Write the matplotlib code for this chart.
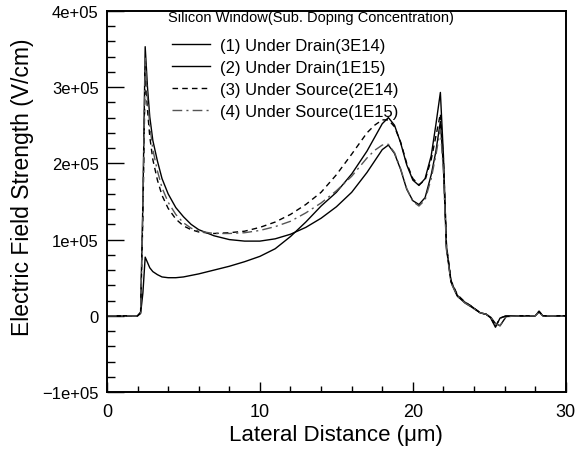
import matplotlib
matplotlib.use("Agg")
import matplotlib.pyplot as plt
from matplotlib.ticker import MultipleLocator, FixedLocator, FixedFormatter

plt.rcParams['font.family'] = ['Liberation Sans', 'DejaVu Sans']

# lateral distance (um), shared by all curves
x = [0, 1, 2.0, 2.2, 2.35, 2.5, 2.65, 2.8, 3.0, 3.3, 3.6, 4.0, 4.5, 5.0, 5.5,
     6, 7, 8, 9, 10, 11, 12, 13, 14, 15, 16, 17, 17.5, 18.0, 18.4, 18.8,
     19.2, 19.6, 20.0, 20.4, 20.8, 21.2, 21.5, 21.8, 22.0, 22.2, 22.5, 22.9,
     23.4, 23.8, 24.4, 24.8, 25.1, 25.4, 25.7, 26.1, 27, 28, 28.25, 28.5, 29, 30]

# electric field, kV/cm
drain_3e14 = [0, 0, 0, 3, 30, 77, 70, 63, 58, 54, 51, 50, 50, 51, 53,
              55, 60, 65, 71, 78, 88, 104, 123, 144, 162, 186, 216, 234, 252, 260, 250,
              227, 198, 178, 171, 180, 210, 250, 293, 210, 90, 45, 27,
              18, 13, 4, 2, -3, -15, -3, 0, 0, 0, 6, 0, 0, 0]
drain_1e15 = [0, 0, 0, 5, 150, 353, 300, 261, 230, 203, 180, 160, 142, 130, 120,
              113, 105, 100, 98, 98, 101, 107, 116, 128, 143, 162, 188, 203, 218, 224, 213,
              192, 166, 151, 146, 155, 185, 215, 255, 195, 88, 44, 26,
              17, 12, 4, 2, -2, -10, -13, -1, 0, 0, 5, 0, 0, 0]
source_2e14 = [0, 0, 0, 4, 130, 318, 270, 235, 205, 178, 158, 141, 127, 118, 113,
               110, 108, 109, 111, 116, 123, 133, 146, 162, 185, 212, 240, 250, 257, 257, 248,
               228, 200, 180, 172, 178, 205, 235, 265, 205, 92, 46, 28,
               18, 13, 4, 2, -3, -14, -3, 0, 0, 0, 6, 0, 0, 0]
source_1e15 = [0, 0, 0, 4, 140, 338, 285, 250, 218, 190, 168, 149, 133, 122, 115,
               111, 108, 108, 109, 112, 117, 124, 135, 148, 164, 183, 207, 217, 224, 225, 214,
               193, 167, 150, 144, 152, 180, 210, 245, 190, 86, 43, 26,
               17, 12, 4, 2, -2, -10, -13, -1, 0, 0, 5, 0, 0, 0]

labels = ['(1) Under Drain(3E14)', '(2) Under Drain(1E15)',
          '(3) Under Source(2E14)', '(4) Under Source(1E15)']

fig = plt.figure(figsize=(5.75, 4.56), dpi=100)
ax = fig.add_axes([0.186, 0.138, 0.798, 0.836])

ax.plot(x, [v * 1000 for v in drain_3e14], color='black', lw=1.0, label=labels[0])
ax.plot(x, [v * 1000 for v in drain_1e15], color='black', lw=1.0, label=labels[1])
ax.plot(x, [v * 1000 for v in source_2e14], color='black', lw=1.0,
        linestyle=(0, (4, 3)), label=labels[2])
ax.plot(x, [v * 1000 for v in source_1e15], color='#555555', lw=1.0,
        linestyle=(0, (7, 3, 1.5, 3)), label=labels[3])

ax.set_xlim(0, 30)
ax.set_ylim(-1e5, 4e5)

ax.xaxis.set_major_locator(MultipleLocator(10))
ax.xaxis.set_minor_locator(MultipleLocator(2))
yt = [-1e5, 0, 1e5, 2e5, 3e5, 4e5]
ax.yaxis.set_major_locator(FixedLocator(yt))
ax.yaxis.set_major_formatter(FixedFormatter(['\u22121e+05', '0', '1e+05', '2e+05', '3e+05', '4e+05']))
ax.yaxis.set_minor_locator(MultipleLocator(2e4))

ax.tick_params(axis='x', which='major', direction='in', length=7, width=1,
               labelsize=13, pad=8)
ax.tick_params(axis='x', which='minor', direction='in', length=4, width=1)
ax.tick_params(axis='y', which='major', direction='in', length=12, width=1,
               labelsize=12, pad=6)
ax.tick_params(axis='y', which='minor', direction='in', length=6, width=1)
for s in ax.spines.values():
    s.set_linewidth(1.4)

ax.set_xlabel('Lateral Distance (\u03bcm)', fontsize=16, labelpad=3)
ax.set_ylabel('Electric Field Strength (V/cm)', fontsize=16.5)
ax.yaxis.set_label_coords(-0.16, 0.54)

ax.text(0.133, 0.985, 'Silicon Window(Sub. Doping Concentration)', transform=ax.transAxes,
        fontsize=10.5, ha='left', va='center')
ax.legend(loc='upper left', bbox_to_anchor=(0.142, 0.93), frameon=False, fontsize=12,
          handlelength=2.3, handletextpad=0.6, labelspacing=0.42,
          borderaxespad=0, borderpad=0)

fig.savefig('out.png', dpi=100)
